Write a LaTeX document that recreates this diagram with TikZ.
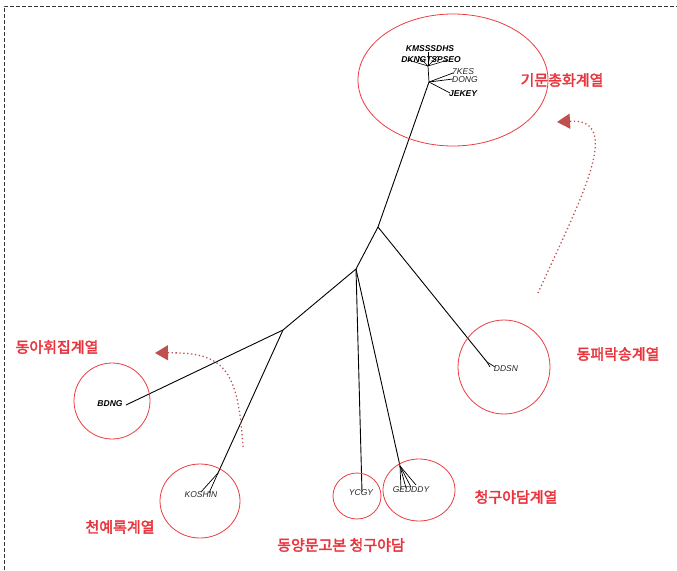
\documentclass[tikz,border=0pt]{standalone}
\usepackage{fontspec}
\setmainfont{Liberation Sans}
\newfontfamily\krfont[AutoFakeBold=2.5]{Noto Sans CJK KR}
\usetikzlibrary{arrows.meta}
\definecolor{lblred}{RGB}{232,52,60}
\definecolor{circred}{RGB}{236,60,64}
\definecolor{arrred}{RGB}{192,80,77}
\begin{document}
\begin{tikzpicture}[x=1pt,y=-1pt,
  frame/.style={draw=black!80,line width=0.8pt,dash pattern=on 4pt off 2pt},
  branch/.style={draw=black,line width=0.9pt},
  grp/.style={draw=circred,line width=0.8pt},
  grplabel/.style={font=\krfont\bfseries\fontsize{15}{18}\selectfont,text=lblred,inner sep=0pt},
  leaf/.style={font=\itshape\fontsize{8.5}{9}\selectfont,text=black!85,inner sep=0pt},
  leafb/.style={font=\bfseries\itshape\fontsize{8.5}{9}\selectfont,text=black,inner sep=0pt},
  dotarrow/.style={draw=arrred,line width=1.3pt,dash pattern=on 1.3pt off 2.6pt,-{Triangle[length=13pt,width=15pt,fill=arrred]}}]
\useasboundingbox (0,0) rectangle (677,570);
% frame
\coordinate (fa) at (4,570);
\coordinate (fb) at (4,6);
\coordinate (fc) at (677,6);
\draw[frame] (fa) -- (fb) -- (fc);
% tree coordinates
\coordinate (t) at (429,82);
\coordinate (tt) at (428,66);
\coordinate (r) at (378,227);
\coordinate (a) at (356,269);
\coordinate (b) at (283,330);
\coordinate (ddsn) at (487,362);
\coordinate (ycgy) at (362,492);
\coordinate (g) at (400,466);
\coordinate (bdng) at (126,405);
\coordinate (k) at (218,473);
\draw[branch] (t) -- (r) -- (ddsn);
\draw[branch] (r) -- (a) -- (b) -- (bdng);
\draw[branch] (a) -- (ycgy);
\draw[branch] (a) -- (g);
\draw[branch] (b) -- (k);
% sub-branches
\coordinate (g1) at (401,489);
\coordinate (g2) at (406,488);
\coordinate (g3) at (411,487);
\coordinate (g4) at (416,485);
\foreach \p in {g1,g2,g3,g4} \draw[branch,line width=0.7pt] (g) -- (\p);
\coordinate (k1) at (201,492);
\coordinate (k2) at (209,493);
\foreach \p in {k1,k2} \draw[branch,line width=0.7pt] (k) -- (\p);
\coordinate (d1) at (490,367);
\coordinate (d2) at (495,367);
\foreach \p in {d1,d2} \draw[branch,line width=0.7pt] (ddsn) -- (\p);
\coordinate (s1) at (453,73);
\coordinate (s2) at (453,79);
\coordinate (s3) at (450,93);
\draw[branch,line width=0.7pt] (t) -- (tt);
\foreach \p in {s1,s2,s3} \draw[branch,line width=0.7pt] (t) -- (\p);
\coordinate (c1) at (408,60);
\coordinate (c2) at (418,56);
\coordinate (c3) at (428,52);
\coordinate (c4) at (438,56);
\coordinate (c5) at (448,60);
\foreach \p in {c1,c2,c3,c4,c5} \draw[branch,line width=0.6pt] (tt) -- (\p);
% leaf labels
\node[leafb] (lk1) at (430,49) {KMSSSDHS};
\node[leafb] (lk2) at (431,60) {DKNGTSPSEO};
\node[leaf,anchor=west] (l7kes) at (452,72) {7KES};
\node[leaf,anchor=west] (ldong) at (452,80) {DONG};
\node[leafb,anchor=west] (ljekey) at (449,94) {JEKEY};
\node[leafb] (lbdng) at (110,404) {BDNG};
\node[leaf] (lkoshin) at (201,495) {KOSHIN};
\node[leaf] (lycgy) at (361,493) {YCGY};
\node[leaf] (lged) at (411,490) {GEDDDY};
\node[leaf] (lddsn) at (506,369) {DDSN};
% group circles
\draw[grp] (453,80) ellipse [x radius=95, y radius=66];
\draw[grp] (112,401) ellipse [x radius=38, y radius=38];
\draw[grp] (200,501) ellipse [x radius=40, y radius=37];
\draw[grp] (357,496) ellipse [x radius=24, y radius=23];
\draw[grp] (419,490) ellipse [x radius=36, y radius=31];
\draw[grp] (504,367) ellipse [x radius=46, y radius=47];
% group labels
\node[grplabel] (g-kimun) at (562,80) {기문총화계열};
\node[grplabel] (g-dongpae) at (618,354) {동패락송계열};
\node[grplabel] (g-donga) at (57,347) {동아휘집계열};
\node[grplabel] (g-cheon) at (120,527) {천예록계열};
\node[grplabel] (g-dongyang) at (341,545) {동양문고본 청구야담};
\node[grplabel] (g-cheonggu) at (516,497) {청구야담계열};
% dotted arrows
\coordinate (ar1s) at (538,293);
\coordinate (ar1e) at (557,122);
\draw[dotarrow] (ar1s) .. controls (580,200) and (625,118) .. (ar1e);
\coordinate (ar2s) at (243,447);
\coordinate (ar2e) at (155,353);
\draw[dotarrow] (ar2s) .. controls (238,370) and (225,352) .. (ar2e);
\end{tikzpicture}
\end{document}
